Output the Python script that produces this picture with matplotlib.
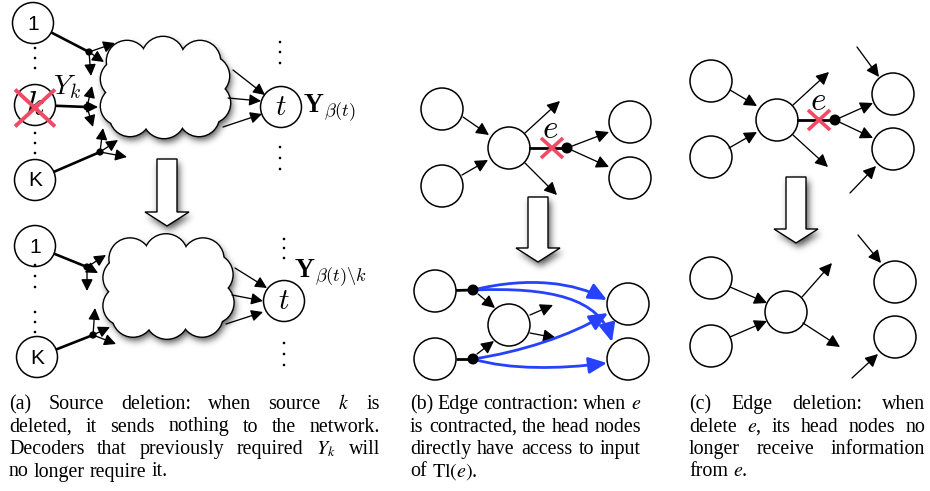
import numpy as np
import matplotlib
matplotlib.use("Agg")
import matplotlib.pyplot as plt
from matplotlib.patches import Circle, Polygon, FancyArrowPatch
from matplotlib.path import Path

W, H = 930, 491
RED = "#f04a64"
BLUE = "#2642ff"

# ---------------- diagram data (pixel coordinates of the drawing) ----------------
# Panel (a): source nodes, junction dots, cloud, decoder node
a_top_src = [(33, 23, "1"), (35, 180, "K")]
a_top_killed = (35, 105)
a_top_junctions = [(89, 52), (87, 107), (100, 152)]
a_top_arrows = [((89, 52), (115, 43)), ((89, 52), (104, 62)), ((89, 52), (91, 76)),
                ((87, 107), (92, 86)), ((87, 107), (98, 107)), ((87, 107), (93, 127)),
                ((100, 152), (103, 128)), ((100, 152), (118, 140)), ((100, 152), (127, 157)),
                ((233, 70), (265, 95)), ((228, 98), (261, 101)), ((223, 127), (262, 114))]
a_top_cloud = (165, 87, 1.0, 1.0)
a_top_t = (281, 107)
a_top_vdots = [(35, 48), (35, 58), (35, 68), (35, 133), (35, 143), (35, 153),
               (280, 42), (280, 52), (280, 63), (280, 147), (280, 158), (280, 169)]

a_bot_src = [(35, 246, "1"), (37, 357, "K")]
a_bot_junctions = [(87, 267), (93, 335)]
a_bot_arrows = [((87, 267), (106, 255)), ((87, 267), (87, 291)), ((87, 267), (98, 273)),
                ((93, 335), (95, 308)), ((93, 335), (116, 344)), ((93, 335), (110, 327)),
                ((235, 268), (267, 288)), ((232, 295), (263, 301)), ((226, 324), (263, 312))]
a_bot_cloud = (168, 286, 1.0, 1.04)
a_bot_t = (284, 301)
a_bot_vdots = [(35, 265), (35, 276), (35, 287), (35, 312), (35, 322), (35, 332),
               (284, 239), (284, 248), (284, 258), (284, 343), (284, 354), (284, 365)]

# Panel (b)
b_top_nodes = [(442, 109), (442, 186), (509, 148), (630, 122), (630, 178)]
b_top_arrows = [((463, 117), (489, 135)), ((462, 175), (488, 160)),
                ((525, 133), (560, 101)), ((525, 163), (557, 195)),
                ((567, 148), (609, 132)), ((567, 148), (609, 167))]
b_top_edge = ((530, 148), (567, 148))
b_bot_nodes = [(435, 291), (435, 359), (509, 325), (628, 304), (628, 359)]
b_bot_dots = [(473, 290), (473, 359)]
b_bot_arrows = [((478, 294), (495, 308)), ((477, 354), (494, 341)),
                ((530, 315), (553, 305)), ((530, 333), (556, 338))]
b_blue_curves = [[(473, 290), (530, 276), (575, 283), (607, 300)],
                 [(473, 290), (550, 287), (600, 298), (612, 342)],
                 [(473, 359), (520, 352), (570, 336), (608, 313)],
                 [(473, 359), (510, 370), (560, 369), (607, 363)]]

# Panel (c)
c_top_nodes = [(711, 81), (711, 157), (777, 120), (893, 94), (893, 149)]
c_top_arrows = [((730, 90), (757, 106)), ((729, 148), (757, 132)),
                ((793, 105), (829, 72)), ((793, 135), (828, 167)),
                ((835, 120), (873, 103)), ((835, 120), (873, 138)),
                ((857, 47), (879, 77)), ((850, 193), (876, 166))]
c_top_edge = ((798, 120), (835, 120))
c_bot_nodes = [(711, 278), (711, 346), (786, 312), (895, 282), (895, 337)]
c_bot_arrows = [((730, 287), (767, 303)), ((730, 337), (767, 321)),
                ((802, 297), (832, 263)), ((803, 323), (840, 347)),
                ((858, 235), (881, 263)), ((852, 378), (878, 354))]

# big hollow arrows: centre x, top y, head start y, tip y
big_arrows = [(167, 159, 212, 226), (538, 197, 248, 262), (796, 177, 229, 243)]

# cloud bumps (dx, dy, r)
CLOUD_BUMPS = [(-38, -26, 20), (-2, -29, 21), (35, -26, 20), (44, -11, 20), (45, 16, 20),
               (34, 29, 20), (-1, 30, 21), (-35, 29, 20), (-45, 19, 19), (-45, -8, 19)]

captions = [
    (9, 380, ["(a) Source deletion: when source $k$ is",
              "deleted, it sends nothing to the network.",
              "Decoders that previously required $Y_k$ will",
              "no longer require it."]),
    (410, 641, ["(b) Edge contraction: when $e$",
                "is contracted, the head nodes",
                "directly have access to input",
                r"of $\mathrm{Tl}(e)$."]),
    (689, 925, ["(c) Edge deletion: when",
                "delete $e$, its head nodes no",
                "longer receive information",
                "from $e$."]),
]
CAP_BASELINES = [409, 431.5, 454, 476.5]

# ---------------- figure ----------------
fig = plt.figure(figsize=(9.3, 4.91), dpi=100)
ax = fig.add_axes([0, 0, 1, 1])


def cloud_geom(cx, cy, sx, sy):
    s = (sx + sy) / 2
    return [(cx + dx * sx, cy + dy * sy, r * s) for dx, dy, r in CLOUD_BUMPS]


def arrow_poly(cx, y0, y1, y2, sw=10, hw=22):
    return [(cx - sw, y0), (cx + sw, y0), (cx + sw, y1), (cx + hw, y1),
            (cx, y2), (cx - hw, y1), (cx - sw, y1)]


# ---- shadows (blurred masks) ----
yy, xx = np.mgrid[0:H, 0:W] + 0.5
pts = np.c_[xx.ravel(), yy.ravel()]
mask = np.zeros((H, W), dtype=float)
for cl in (a_top_cloud, a_bot_cloud):
    circs = cloud_geom(*cl)
    for cx, cy, r in circs:
        mask[(xx - cx) ** 2 + (yy - cy) ** 2 <= r ** 2] = 1
    poly = Path([(c[0], c[1]) for c in circs] + [(circs[0][0], circs[0][1])])
    mask[poly.contains_points(pts).reshape(H, W)] = 1
for cx, y0, y1, y2 in big_arrows:
    p = Path(arrow_poly(cx, y0, y1, y2) + [arrow_poly(cx, y0, y1, y2)[0]])
    mask[p.contains_points(pts).reshape(H, W)] = 1
sig = 3.5
k = np.arange(-12, 13)
ker = np.exp(-k ** 2 / (2 * sig ** 2))
ker /= ker.sum()
blur = np.apply_along_axis(lambda v: np.convolve(v, ker, mode="same"), 1, mask)
blur = np.apply_along_axis(lambda v: np.convolve(v, ker, mode="same"), 0, blur)
dx, dy = 2, 4
sh = np.zeros_like(blur)
sh[dy:, dx:] = blur[:-dy, :-dx]
img = np.zeros((H, W, 4))
img[..., 3] = 0.68 * sh
ax.imshow(img, extent=(0, W, H, 0), zorder=1, interpolation="bilinear", aspect="auto")

# ---- clouds ----
for cl in (a_top_cloud, a_bot_cloud):
    circs = cloud_geom(*cl)
    for cx, cy, r in circs:
        ax.add_patch(Circle((cx, cy), r, fc="none", ec="black", lw=2.0, zorder=2))
    for cx, cy, r in circs:
        ax.add_patch(Circle((cx, cy), r, fc="white", ec="none", zorder=3))
    ax.add_patch(Polygon([(c[0], c[1]) for c in circs], closed=True, fc="white", ec="none", zorder=3))

# ---- big hollow arrows ----
for cx, y0, y1, y2 in big_arrows:
    ax.add_patch(Polygon(arrow_poly(cx, y0, y1, y2), closed=True, fc="white", ec="black",
                         lw=1.0, joinstyle="miter", zorder=3))


def node(x, y, r=20.5, label=None, fs=14, math=False):
    ax.add_patch(Circle((x, y), r, fc="white", ec="black", lw=1.1, zorder=5))
    if label is not None:
        if math:
            ax.text(x, y, label, ha="center", va="center", fontsize=fs, math_fontfamily="cm", zorder=6)
        else:
            ax.text(x, y + 1, label, ha="center", va="center", fontsize=fs,
                    family="Liberation Sans", zorder=6)


def arrow(p0, p1, hl=0.7, hw=0.35, ms=10, lw=0.95, color="black", z=7):
    ax.add_patch(FancyArrowPatch(p0, p1, arrowstyle=f"-|>,head_length={hl},head_width={hw}",
                                 mutation_scale=ms, lw=lw, color=color, shrinkA=0, shrinkB=0,
                                 zorder=z))


def dot(x, y, r):
    ax.add_patch(Circle((x, y), r, fc="black", ec="none", zorder=8))


def edge_from(node_xy, r, to_xy, lw=1.9):
    nx, ny = node_xy
    tx, ty = to_xy
    d = np.hypot(tx - nx, ty - ny)
    sx, sy = nx + r * (tx - nx) / d, ny + r * (ty - ny) / d
    ax.plot([sx, tx], [sy, ty], color="black", lw=lw, solid_capstyle="butt", zorder=6)


def cross(x, y, hx, hy, lw):
    ax.plot([x - hx, x + hx], [y - hy, y + hy], color=RED, lw=lw, solid_capstyle="butt", zorder=9)
    ax.plot([x - hx, x + hx], [y + hy, y - hy], color=RED, lw=lw, solid_capstyle="butt", zorder=9)


# ---- panel (a) top ----
for (x, y, lab), j in zip(a_top_src, [a_top_junctions[0], a_top_junctions[2]]):
    node(x, y, label=lab, fs=15)
    edge_from((x, y), 20.5, j)
node(*a_top_killed, label="$k$", fs=25, math=True)
edge_from(a_top_killed, 20.5, a_top_junctions[1])
cross(a_top_killed[0], a_top_killed[1] + 3, 20, 18.5, 2.8)
for j in a_top_junctions:
    dot(*j, 3.6)
for p0, p1 in a_top_arrows:
    arrow(p0, p1)
node(*a_top_t, label="$t$", fs=21, math=True)
for x, y in a_top_vdots:
    dot(x, y, 1.3)
ax.text(53, 94, "$Y_k$", fontsize=20, math_fontfamily="cm", ha="left", va="baseline", zorder=9)
ax.text(303, 113, r"$\mathbf{Y}_{\beta(t)}$", fontsize=19, math_fontfamily="cm",
        ha="left", va="baseline", zorder=9)

# ---- panel (a) bottom ----
for (x, y, lab), j in zip(a_bot_src, a_bot_junctions):
    node(x, y, label=lab, fs=15)
    edge_from((x, y), 20.5, j)
for j in a_bot_junctions:
    dot(*j, 3.6)
for p0, p1 in a_bot_arrows:
    arrow(p0, p1)
node(*a_bot_t, label="$t$", fs=21, math=True)
for x, y in a_bot_vdots:
    dot(x, y, 1.3)
ax.text(294, 278, r"$\mathbf{Y}_{\beta(t)\backslash k}$", fontsize=19, math_fontfamily="cm",
        ha="left", va="baseline", zorder=9)

# ---- panel (b) ----
for x, y in b_top_nodes:
    node(x, y, r=21)
for p0, p1 in b_top_arrows:
    arrow(p0, p1, ms=11)
ax.plot(*zip(*b_top_edge), color="black", lw=2.0, zorder=6)
dot(*b_top_edge[1], 5.5)
cross(552, 148, 11, 10, 2.6)
ax.text(550, 129, "$e$", fontsize=24, math_fontfamily="cm", ha="center", va="center", zorder=9)

for x, y in b_bot_nodes:
    node(x, y, r=21)
for (nx, ny), (dx_, dy_) in zip(b_bot_nodes[:2], b_bot_dots):
    edge_from((nx, ny), 21, (dx_, dy_), lw=2.0)
for d in b_bot_dots:
    dot(*d, 5.5)
for p0, p1 in b_bot_arrows:
    arrow(p0, p1, ms=11)
for cv in b_blue_curves:
    path = Path(cv, [Path.MOVETO, Path.CURVE4, Path.CURVE4, Path.CURVE4])
    ax.add_patch(FancyArrowPatch(path=path, arrowstyle="-|>,head_length=0.85,head_width=0.38",
                                 mutation_scale=13, lw=2.0, color=BLUE, zorder=7))

# ---- panel (c) ----
for x, y in c_top_nodes:
    node(x, y, r=21)
for p0, p1 in c_top_arrows:
    arrow(p0, p1, ms=11)
ax.plot(*zip(*c_top_edge), color="black", lw=2.0, zorder=6)
dot(*c_top_edge[1], 5.5)
cross(819, 120, 11, 10, 2.6)
ax.text(818, 100, "$e$", fontsize=24, math_fontfamily="cm", ha="center", va="center", zorder=9)
for x, y in c_bot_nodes:
    node(x, y, r=21)
for p0, p1 in c_bot_arrows:
    arrow(p0, p1, ms=11)

# ---- captions (justified) ----
CAP_FS = 14.4
renderer = fig.canvas.get_renderer()
for x0, x1, lines in captions:
    for i, (line, yb) in enumerate(zip(lines, CAP_BASELINES)):
        words = line.split(" ")
        ts = [ax.text(0, yb, w, fontsize=CAP_FS, family="Liberation Serif", math_fontfamily="stix",
                      ha="left", va="baseline", zorder=9) for w in words]
        widths = [t.get_window_extent(renderer).width for t in ts]
        if i == len(lines) - 1:
            gap = 0.25 * CAP_FS * 100 / 72
        else:
            gap = (x1 - x0 - sum(widths)) / (len(words) - 1)
        x = x0
        for t, w in zip(ts, widths):
            t.set_x(x)
            x += w + gap

ax.set_xlim(0, W)
ax.set_ylim(H, 0)
ax.axis("off")
fig.savefig("out.png", dpi=100)
